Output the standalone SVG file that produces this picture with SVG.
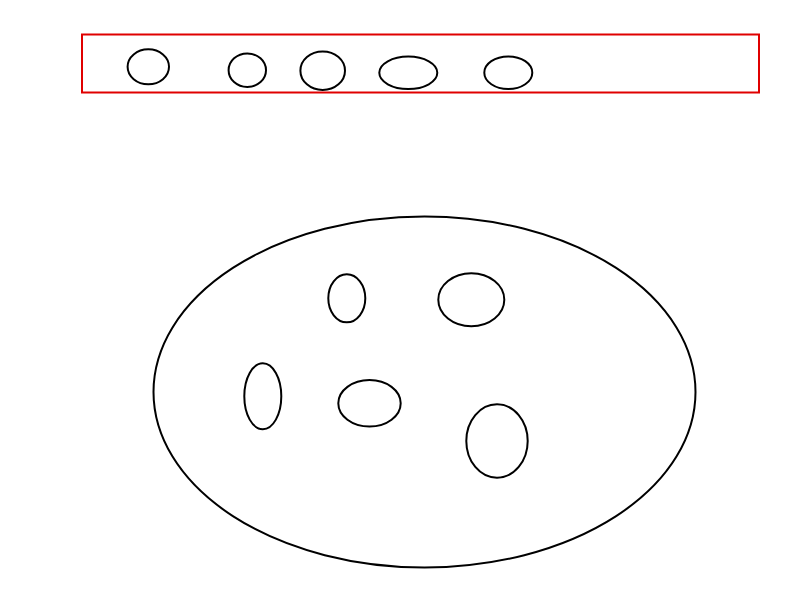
<svg xmlns="http://www.w3.org/2000/svg" width="800" height="600" viewBox="0 0 800 600">
<style>
.e{fill:none;stroke:#000;stroke-width:2}
.r{fill:none;stroke:#e00000;stroke-width:2}
</style>
<rect width="800" height="600" fill="#fff"/>
<g id="container"><rect class="r" x="82" y="34.5" width="677" height="58"/></g>
<g id="t1"><ellipse class="e" cx="148.3" cy="66.8" rx="20.7" ry="17.5"/></g>
<g id="t2"><ellipse class="e" cx="247.3" cy="70.2" rx="18.7" ry="16.8"/></g>
<g id="t3"><ellipse class="e" cx="322.7" cy="70.7" rx="22.3" ry="19.3"/></g>
<g id="t4"><ellipse class="e" cx="408.3" cy="72.8" rx="29" ry="16.2"/></g>
<g id="t5"><ellipse class="e" cx="508.3" cy="72.7" rx="24" ry="16.3"/></g>
<g id="big"><ellipse class="e" cx="424.5" cy="392" rx="271" ry="175.5"/></g>
<g id="i1"><ellipse class="e" cx="346.8" cy="298.3" rx="18.5" ry="24"/></g>
<g id="i2"><ellipse class="e" cx="471.3" cy="299.8" rx="33" ry="26.5"/></g>
<g id="i3"><ellipse class="e" cx="262.8" cy="396.3" rx="18.5" ry="33"/></g>
<g id="i4"><ellipse class="e" cx="369.5" cy="403.3" rx="31.2" ry="23.3"/></g>
<g id="i5"><ellipse class="e" cx="497" cy="441" rx="30.7" ry="36.7"/></g>
<g id="connectors"></g>
</svg>
